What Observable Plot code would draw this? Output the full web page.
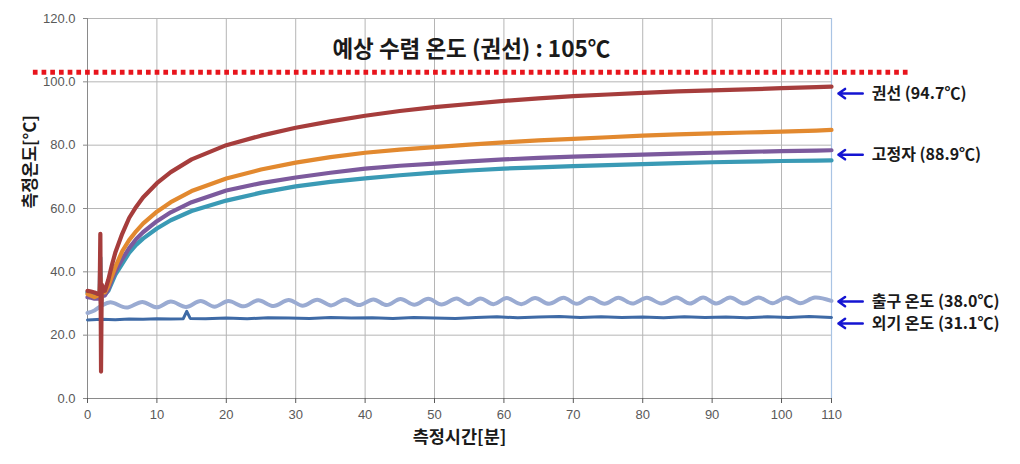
<!DOCTYPE html>
<html><head><meta charset="utf-8">
<script src="https://cdn.jsdelivr.net/npm/d3@7"></script>
<script src="https://cdn.jsdelivr.net/npm/@observablehq/plot@0.6"></script>
<style>body{margin:0;background:#fff}</style></head>
<body><div id="chart"></div>
<script>
// ---- data (minutes, °C) ----
const mainTime = [0,0.5,1,1.5,1.75,1.85,1.95,2.05,2.2,2.5,3,3.5,4,5,6,7,8,10,12,15,20,25,30,35,40,45,50,55,60,65,70,75,80,85,90,95,100,105,107.2];
const winding  = [34,33.8,33.5,33,33.2,52,8.5,36,35,34,37.5,42,46,52,57,60.5,63.5,68,71.5,75.5,80,83,85.5,87.5,89.3,90.8,92,93,94,94.8,95.5,96,96.5,97,97.3,97.6,98,98.3,98.5];
const orangeS  = [33,32.5,32,32.5,33,38,31,34,33.5,33.5,35.5,38.5,41.5,46.5,50,52.8,55.2,59,62,65.5,69.5,72.3,74.5,76.2,77.6,78.6,79.4,80.2,80.9,81.5,82,82.5,83,83.4,83.7,84,84.3,84.6,84.8];
const purpleS  = [32,31.8,31.5,31.5,32,36,30,33,32.5,32.5,34.5,37.5,40,44,47.5,50.3,52.5,56,58.8,62,65.7,68,69.8,71.3,72.6,73.5,74.2,74.9,75.5,76,76.4,76.7,77,77.3,77.6,77.9,78.1,78.3,78.4];
const tealS    = [33.5,33,32.5,32.5,33,44.5,29,34,33,32.8,34,36.5,39,42.5,46,48.5,50.5,53.7,56.3,59.2,62.5,65,67,68.4,69.5,70.5,71.3,72,72.6,73,73.4,73.7,74,74.3,74.6,74.8,75,75.1,75.2];

const outletTime = [0,1,2,3.3,5.6,7.9,10,12,14.2,16.3,18.3,20.3,22.5,24.6,26.8,29,31,33.1,35.1,37.1,39.1,41.2,43.1,45.1,47.1,49.1,51,53.2,54.9,56.6,58.5,60.4,62.5,64.5,66.5,68.6,70.5,72.4,74.5,76.5,78.5,80.6,82.7,84.9,86.8,88.7,90.6,92.6,94.6,96.7,98.7,100.7,102.7,104.8,107.2];
const outletV    = [27,27.8,29.3,30.4,28.7,30.5,28.8,30.6,28.9,30.8,29,30.8,29.1,31,29.2,31.1,29.3,31.2,29.4,31.3,29.5,31.3,29.5,31.4,29.6,31.5,29.7,31.6,29.8,31.6,29.8,31.7,29.8,31.7,29.9,31.8,29.9,31.8,29.9,31.8,30,31.8,30,31.9,30,31.9,30,31.9,30,31.9,30.1,31.9,30.1,31.9,30.8];

const ambientTime = [0,2,4,6,8,10,12,13.8,14.3,14.8,17,20,23,26,29,32,35,38,41,44,47,50,53,56,59,62,65,68,71,74,77,80,83,86,89,92,95,98,101,104,107.2];
const ambientV    = [24.8,25,24.9,25.1,25,25.2,25.1,25.2,27.5,25.3,25.2,25.4,25.2,25.5,25.4,25.3,25.6,25.4,25.5,25.3,25.6,25.4,25.3,25.6,25.8,25.5,25.7,25.9,25.6,25.8,25.6,25.7,25.5,25.8,25.6,25.7,25.5,25.8,25.6,25.9,25.6];

const yTicks = [0,20,40,60,80,100,120];
const xTickPos = [0,10,20,30,40,50,60,70,80,90,100,107.2];
const xTickLabels = ["0","10","20","30","40","50","60","70","80","90","100","110"];

const expected = 103;
const titleText = "예상 수렴 온도 (권선) : 105℃";
const annoLabels = ["권선 (94.7℃)","고정자 (88.9℃)","출구 온도 (38.0℃)","외기 온도 (31.1℃)"];
const annoLevels = [96.3, 77.0, 30.6, 23.7];

const colors = {winding:"#a63d3c", orange:"#e2892f", purple:"#7c5a9d", teal:"#3a9ab5", outlet:"#9aabd2", ambient:"#3e6aa6"};

function seriesLine(vals, times, color, w, curve) {
  return Plot.line(vals, {x: (d,i) => times[i], y: d => d, stroke: color, strokeWidth: w, curve: curve || "linear", strokeLinejoin: "round"});
}

const KFONT = "'Noto Sans CJK KR', 'Noto Sans', sans-serif";

const chart = Plot.plot({
  width: 1020, height: 464,
  marginLeft: 87, marginRight: 189, marginTop: 18, marginBottom: 66,
  x: {domain: [0, 107.2]},
  y: {domain: [0, 120]},
  style: {fontFamily: "'Liberation Sans', Arial, sans-serif", fontSize: "13px", background: "#fff", color: "#595959"},
  marks: [
    Plot.ruleY(yTicks.filter(d => d > 0), {stroke: "#b5b5b5", strokeWidth: 1}),
    Plot.ruleX(xTickPos.filter(d => d > 0 && d < 107.2), {stroke: "#b5b5b5", strokeWidth: 1}),
    Plot.ruleX([107.2], {stroke: "#a9c4e4", strokeWidth: 1.2}),
    Plot.ruleX([0], {stroke: "#8a8a8a"}),
    Plot.ruleY([0], {stroke: "#8a8a8a"}),
    Plot.axisY({ticks: yTicks, tickFormat: d => d.toFixed(1), tickSize: 4, tickPadding: 8, label: null, color: "#595959", stroke: "#8a8a8a", fontSize: 13}),
    Plot.axisX({ticks: xTickPos, tickFormat: d => xTickLabels[xTickPos.indexOf(d)], tickSize: 5, tickPadding: 6, label: null, color: "#595959", fontSize: 13}),
    seriesLine(ambientV, ambientTime, colors.ambient, 3),
    seriesLine(outletV, outletTime, colors.outlet, 4, "catmull-rom"),
    seriesLine(tealS, mainTime, colors.teal, 4.2),
    seriesLine(purpleS, mainTime, colors.purple, 4.2),
    seriesLine(orangeS, mainTime, colors.orange, 4.2),
    seriesLine(winding, mainTime, colors.winding, 4.2),
    Plot.ruleY([expected], {x1: -7.8, x2: 118.3, stroke: "#e8141c", strokeWidth: 5, strokeDasharray: "4.7,4"}),
    Plot.text([titleText], {x: 55.3, y: 110, fontSize: 22.5, fontWeight: "bold", fill: "#1a1a1a", fontFamily: KFONT}),
    Plot.arrow(annoLevels, {x1: 111.7, x2: 108.2, y1: d => d, y2: d => d, stroke: "#1414d2", strokeWidth: 2.5, headLength: 9, headAngle: 70}),
    Plot.text(annoLabels, {x: 113.0, y: (d,i) => annoLevels[i], textAnchor: "start", fontSize: 16, fontWeight: "bold", fill: "#1a1a1a", fontFamily: KFONT}),
    Plot.text(["측정온도[°C]"], {frameAnchor: "left", dx: -57, rotate: -90, fontSize: 17, fontWeight: "bold", fill: "#1a1a1a", fontFamily: KFONT}),
    Plot.text(["측정시간[분]"], {frameAnchor: "bottom", dy: 44, fontSize: 17.5, fontWeight: "bold", fill: "#1a1a1a", fontFamily: KFONT})
  ]
});
document.getElementById("chart").appendChild(chart);
</script>
</body></html>
